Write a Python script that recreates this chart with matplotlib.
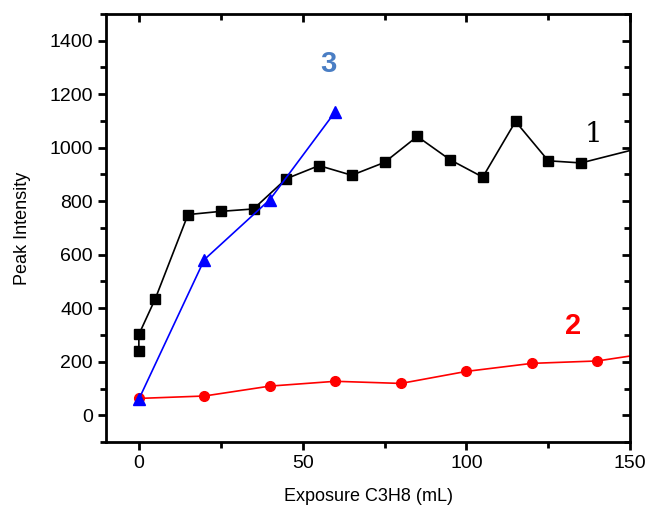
import numpy as np
import matplotlib.pyplot as plt
from matplotlib.ticker import MultipleLocator

plt.rcParams['font.family'] = ['Liberation Sans', 'DejaVu Sans']

# series 1 (black squares)
x1 = [0, 0, 5, 15, 25, 35, 45, 55, 65, 75, 85, 95, 105, 115, 125, 135, 155]
y1 = [240, 302, 435, 750, 762, 771, 884, 933, 897, 945, 1042, 955, 890, 1098, 951, 943, 1005]

# series 2 (red circles)
x2 = [0, 20, 40, 60, 80, 100, 120, 140, 160]
y2 = [63, 72, 109, 127, 119, 164, 194, 203, 240]

# series 3 (blue triangles)
x3 = [0, 20, 40, 60]
y3 = [60, 582, 806, 1135]

W, H = 651, 514
fig = plt.figure(figsize=(W / 100, H / 100), dpi=100)
ax = fig.add_axes([0.163, 0.14, 0.805, 0.833])

ax.plot(x1, y1, color='black', marker='s', markersize=7, linewidth=1.2)
ax.plot(x2, y2, color='red', marker='o', markersize=7, linewidth=1.2)
ax.plot(x3, y3, color='blue', marker='^', markersize=9, linewidth=1.2)

# curve labels, placed in pixel positions of the figure
fig.text(593 / W, 1 - 135 / H, '1', color='black', fontsize=20,
         family='DejaVu Serif', ha='center', va='center')
fig.text(573 / W, 1 - 326 / H, '2', color='red', fontsize=21,
         fontweight='bold', ha='center', va='center')
fig.text(328 / W, 1 - 64 / H, '3', color='#4a7ec4', fontsize=21,
         fontweight='bold', ha='center', va='center')

ax.set_xlim(-10, 150)
ax.set_ylim(-100, 1500)
ax.xaxis.set_major_locator(MultipleLocator(50))
ax.xaxis.set_minor_locator(MultipleLocator(25))
ax.yaxis.set_major_locator(MultipleLocator(200))
ax.yaxis.set_minor_locator(MultipleLocator(100))
ax.set_yticks(np.arange(0, 1401, 200))

for s in ax.spines.values():
    s.set_linewidth(2)

ax.tick_params(which='both', width=2, labelsize=14)
ax.tick_params(which='major', length=6)
ax.tick_params(which='minor', length=4)
ax.tick_params(axis='x', which='both', top=True, direction='out')
ax.tick_params(axis='y', which='both', right=True, direction='out')
# right and top ticks point inward
for t in ax.xaxis.get_major_ticks() + ax.xaxis.get_minor_ticks():
    t.tick2line.set_marker(3)
for t in ax.yaxis.get_major_ticks() + ax.yaxis.get_minor_ticks():
    t.tick2line.set_marker(0)

ax.set_xlabel('Exposure C3H8 (mL)', fontsize=13, labelpad=11)
ax.set_ylabel('Peak Intensity', fontsize=13, labelpad=13)

fig.savefig('out.png', dpi=100)
